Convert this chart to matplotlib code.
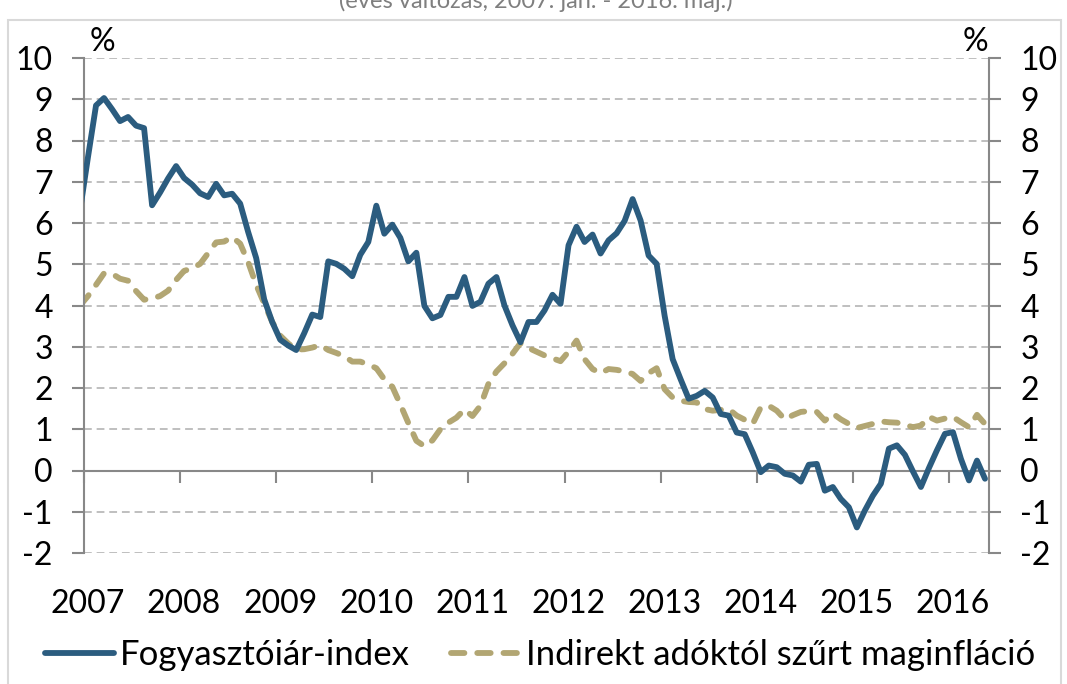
import numpy as np
import matplotlib
matplotlib.use('Agg')
import matplotlib.pyplot as plt
from matplotlib.patches import Rectangle

#### Adatok (havi, éves változás, %)
# az első érték 2006. dec., csak a bal szélen látszik levágva
fogyasztoiar = [6.3,
    7.6, 8.85, 9.03, 8.76, 8.47, 8.57, 8.36, 8.30, 6.43, 6.74, 7.08, 7.38,
    7.09, 6.93, 6.72, 6.63, 6.95, 6.67, 6.71, 6.47, 5.78, 5.15, 4.15, 3.60,
    3.17, 3.03, 2.92, 3.33, 3.78, 3.72, 5.07, 5.01, 4.89, 4.71, 5.23, 5.54,
    6.42, 5.74, 5.96, 5.64, 5.07, 5.28, 3.99, 3.69, 3.77, 4.21, 4.21, 4.69,
    3.99, 4.09, 4.53, 4.69, 4.00, 3.52, 3.11, 3.60, 3.60, 3.88, 4.26, 4.04,
    5.46, 5.91, 5.54, 5.72, 5.26, 5.58, 5.75, 6.05, 6.58, 6.06, 5.21, 5.01,
    3.75, 2.70, 2.21, 1.74, 1.81, 1.93, 1.77, 1.37, 1.33, 0.92, 0.88, 0.44,
    -0.04, 0.12, 0.08, -0.08, -0.12, -0.27, 0.14, 0.16, -0.49, -0.40, -0.69, -0.89,
    -1.38, -0.97, -0.61, -0.32, 0.53, 0.61, 0.38, -0.02, -0.40, 0.06, 0.49, 0.89,
    0.93, 0.28, -0.24, 0.24, -0.20]

maginflacio = [4.0,
    4.23, 4.50, 4.78, 4.77, 4.65, 4.60, 4.35, 4.14, 4.17, 4.23, 4.36, 4.62,
    4.84, 4.90, 5.01, 5.27, 5.53, 5.55, 5.66, 5.50, 5.05, 4.50, 4.05, 3.60,
    3.27, 3.08, 2.93, 2.94, 2.98, 3.04, 2.92, 2.85, 2.77, 2.64, 2.64, 2.57,
    2.48, 2.21, 2.03, 1.60, 1.15, 0.72, 0.59, 0.73, 1.00, 1.16, 1.28, 1.48,
    1.32, 1.57, 2.10, 2.40, 2.60, 2.83, 3.09, 2.97, 2.88, 2.79, 2.72, 2.65,
    2.88, 3.15, 2.70, 2.46, 2.36, 2.46, 2.44, 2.40, 2.34, 2.17, 2.36, 2.48,
    1.97, 1.77, 1.69, 1.66, 1.65, 1.49, 1.45, 1.47, 1.49, 1.33, 1.23, 1.13,
    1.53, 1.57, 1.45, 1.24, 1.34, 1.42, 1.44, 1.42, 1.21, 1.38, 1.24, 1.13,
    1.03, 1.08, 1.13, 1.19, 1.17, 1.16, 1.11, 1.05, 1.09, 1.30, 1.21, 1.26,
    1.30, 1.17, 1.05, 1.35, 1.13]

evek = ['2007', '2008', '2009', '2010', '2011', '2012', '2013', '2014', '2015', '2016']
y_ertekek = list(range(-2, 11))
cim = '(éves változás, 2007. jan. - 2016. máj.)'

#### Ábra
plt.rcParams['font.family'] = ['Lato', 'DejaVu Sans']

kek = '#2B5C7F'
arany = '#B2A673'
szurke = '#888888'

honap = np.arange(len(fogyasztoiar)) - 1   # 0 = 2007. jan.
n_honap = len(fogyasztoiar) - 1

fig = plt.figure(figsize=(10.67, 6.84), dpi=100)
ax = fig.add_axes([84/1067, 1-553/684, 905/1067, 495/684])

ax.plot(honap, fogyasztoiar, color=kek, lw=4.2, solid_joinstyle='round', solid_capstyle='round',
        label='Fogyasztóiár-index', zorder=3)
ax.plot(honap, maginflacio, color=arany, lw=4.2, linestyle=(0, (2.3, 2.2)), dash_capstyle='round',
        label='Indirekt adóktól szűrt maginfláció', zorder=2)

ax.set_xlim(-0.5, n_honap - 0.5)
ax.set_ylim(-2, 10)

ax.set_yticks(y_ertekek)
ax.set_yticklabels([str(v) for v in y_ertekek])
ax.grid(axis='y', color='#BFBFBF', lw=1.4, linestyle=(0, (4, 2.5)))
ax.set_axisbelow(True)

for s in ['left', 'right']:
    ax.spines[s].set_color(szurke)
    ax.spines[s].set_linewidth(1.5)
ax.spines['top'].set_visible(False)
ax.spines['bottom'].set_position(('data', 0))
ax.spines['bottom'].set_color(szurke)
ax.spines['bottom'].set_linewidth(1.5)

ax.tick_params(axis='y', left=True, right=True, labelleft=True, labelright=True,
               length=8.5, width=1.5, color=szurke, labelsize=23, pad=14)

# évhatárok a vízszintes tengelyen
ax.set_xticks(np.arange(0, n_honap, 12) - 0.5)
ax.tick_params(axis='x', length=8.5, width=1.5, color=szurke, labelbottom=False)

sec = ax.secondary_xaxis('bottom')
sec.set_xticks(np.arange(0, n_honap, 12), labels=evek)
sec.tick_params(length=0, labelsize=23, pad=26)
sec.spines['bottom'].set_visible(False)

ax.text(0.02, 1.033, '%', transform=ax.transAxes, fontsize=23, ha='center', va='center')
ax.text(0.9845, 1.033, '%', transform=ax.transAxes, fontsize=23, ha='center', va='center')

fig.legend(handles=ax.get_lines(), loc='center', bbox_to_anchor=(540/1067, 1-655/684), ncol=2,
           frameon=False, fontsize=25, handlelength=2.0, handletextpad=0.15, columnspacing=1.2)

fig.text(536/1067, 0.998, cim, fontsize=17, color='#7F7F7F', ha='center', va='center')
fig.patches.append(Rectangle((8/1067, -0.05), 1053/1067, 0.05 + 1-20/684, transform=fig.transFigure,
                             fill=False, edgecolor='#D9D9D9', lw=1.5))

fig.savefig('out.png', dpi=100)
